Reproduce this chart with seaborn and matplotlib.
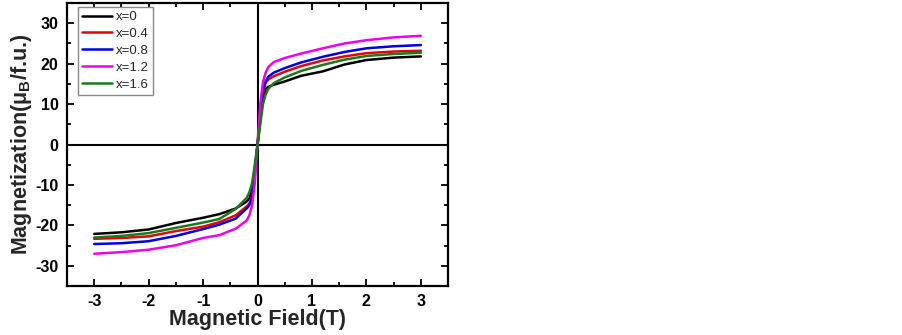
import numpy as np
import pandas as pd
import matplotlib
matplotlib.use('Agg')
import matplotlib.pyplot as plt
import seaborn as sns
from matplotlib.ticker import MultipleLocator

# field values (T)
field = [-3, -2.5, -2, -1.5, -1, -0.7, -0.4, -0.2, -0.15, -0.1, -0.05, 0,
         0.05, 0.1, 0.15, 0.2, 0.3, 0.5, 0.8, 1.2, 1.6, 2, 2.5, 3]

# magnetization (mu_B/f.u.) for each composition
m_x0 = [-22.1, -21.7, -21.0, -19.4, -18.1, -17.2, -15.8, -14.1, -13.3, -11.0, -6.0, 0,
        6.0, 11.5, 13.8, 14.3, 14.8, 15.6, 17.0, 18.1, 19.8, 20.9, 21.5, 21.8]
m_x04 = [-23.3, -23.1, -22.7, -21.4, -20.3, -19.2, -17.5, -15.3, -14.6, -12.8, -7.0, 0,
         7.0, 13.0, 15.3, 16.1, 16.9, 18.0, 19.4, 20.8, 21.8, 22.6, 23.0, 23.2]
m_x08 = [-24.6, -24.4, -23.9, -22.6, -20.9, -19.8, -18.3, -15.8, -15.0, -13.2, -7.5, 0,
         7.5, 13.5, 15.7, 16.8, 17.8, 18.9, 20.3, 21.7, 22.9, 23.8, 24.3, 24.6]
m_x12 = [-27.0, -26.6, -26.0, -24.9, -23.1, -22.4, -20.8, -18.8, -17.5, -15.0, -9.5, 0,
         10.0, 15.5, 17.8, 19.2, 20.4, 21.4, 22.5, 23.8, 25.0, 25.8, 26.5, 26.9]
m_x16 = [-23.0, -22.6, -21.9, -20.6, -19.3, -18.4, -15.9, -13.2, -11.8, -9.5, -5.0, 0,
         5.0, 10.0, 12.4, 13.8, 15.2, 16.6, 18.2, 19.7, 21.0, 21.9, 22.4, 22.7]

labels = ['x=0', 'x=0.4', 'x=0.8', 'x=1.2', 'x=1.6']
colors = ['#000000', '#e8000b', '#0000e0', '#ee00ee', '#1a7a1a']

series = [m_x0, m_x04, m_x08, m_x12, m_x16]
df = pd.concat([pd.DataFrame({'H': field, 'M': m, 'x': lab})
                for m, lab in zip(series, labels)], ignore_index=True)

sns.set_style('ticks')
plt.rcParams['font.family'] = ['Liberation Sans', 'DejaVu Sans']
plt.rcParams['axes.unicode_minus'] = False
plt.rcParams['mathtext.fontset'] = 'custom'
plt.rcParams['mathtext.rm'] = 'Liberation Sans'
plt.rcParams['mathtext.it'] = 'Liberation Sans:bold'

fig = plt.figure(figsize=(9.03, 3.35), dpi=100)
ax = fig.add_axes([0.0742, 0.146, 0.422, 0.845])

sns.lineplot(data=df, x='H', y='M', hue='x', palette=colors, sort=False,
             linewidth=1.8, ax=ax)

ax.axhline(0, color='black', linewidth=1.5, zorder=0)
ax.axvline(0, color='black', linewidth=1.5, zorder=0)

ax.set_xlim(-3.5, 3.5)
ax.set_ylim(-35, 35)
ax.xaxis.set_major_locator(MultipleLocator(1))
ax.xaxis.set_minor_locator(MultipleLocator(0.5))
ax.yaxis.set_major_locator(MultipleLocator(10))
ax.yaxis.set_minor_locator(MultipleLocator(5))
ax.tick_params(which='both', direction='in', top=True, right=True, width=1.3,
               colors='black')
ax.tick_params(which='major', length=5, labelsize=11.5, pad=6)
ax.tick_params(which='minor', length=3)
for lab in ax.get_xticklabels() + ax.get_yticklabels():
    lab.set_fontweight('bold')
for sp in ax.spines.values():
    sp.set_linewidth(1.6)
    sp.set_color('black')
    sp.set_visible(True)

ax.set_xlabel('Magnetic Field(T)', fontsize=15.5, fontweight='bold', labelpad=0)
ax.set_ylabel(r'Magnetization($\mu_B$/f.u.)', fontsize=15.5, fontweight='bold',
              labelpad=1)

handles, _ = ax.get_legend_handles_labels()
leg = ax.legend(handles, labels, loc='upper left', bbox_to_anchor=(0.029, 0.986),
                fontsize=9.5, handlelength=2.3, handletextpad=0.3,
                labelspacing=0.35, borderaxespad=0, borderpad=0.3,
                fancybox=False, edgecolor='#888888', framealpha=1)
leg.get_frame().set_linewidth(1.0)

fig.savefig('out.png', dpi=100)
